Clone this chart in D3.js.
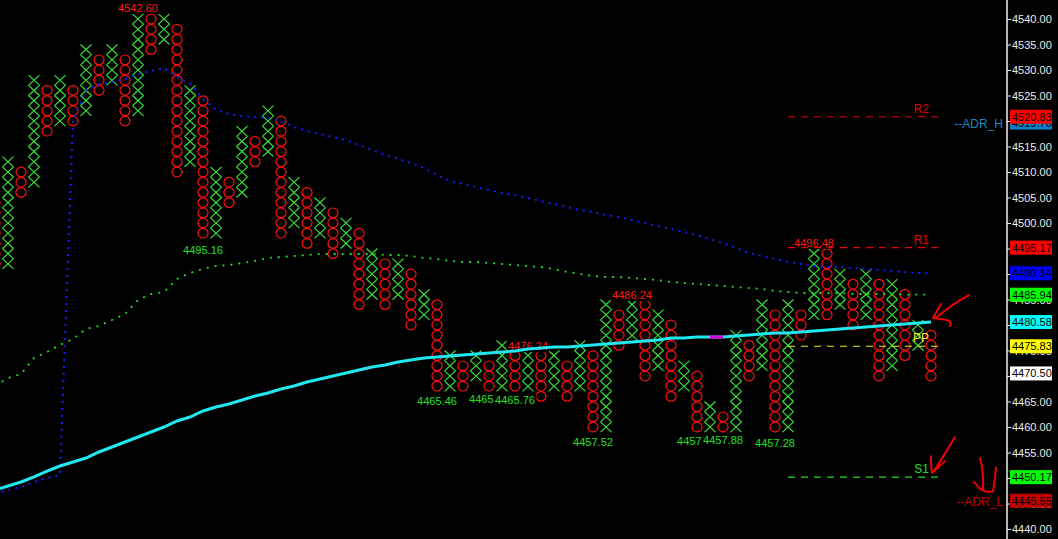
<!DOCTYPE html>
<html><head><meta charset="utf-8">
<script src="https://cdn.jsdelivr.net/npm/d3@7"></script>
<style>html,body{margin:0;padding:0;background:#000;overflow:hidden}</style>
</head><body><svg id="c" width="1058" height="539"></svg>
<script>
// ---- P&F columns (box size 2) ----
const colTypes = ["O","X","O","X","O","X","O","X","O","X","O","X","O","X","O","X","O","X","O","X",
  "O","X","O","X","O","X","O","X","O","X","O","X","O","X","O","X","O","X","O","X",
  "O","X","O","X","O","X","O","X","O","X","O","X","O","X","O","X","O","X","O","X",
  "O","X","O","X","O","X","O","X","O","X","O","X","O"];
const colLow = [4492,4492,4506,4508,4518,4520,4520,4522,4526,4528,
  4520,4522,4534,4536,4510,4512,4498,4498,4504,4506,
  4512,4514,4498,4500,4496,4498,4494,4496,4484,4486,
  4484,4486,4480,4482,4468,4468,4468,4470,4468,4468,
  4468,4468,4466,4468,4466,4468,4460,4460,4476,4478,
  4470,4472,4466,4468,4460,4460,4460,4460,4470,4472,
  4460,4460,4478,4482,4482,4484,4480,4482,4470,4472,
  4474,4476,4470];
const colHigh = [4504,4512,4510,4528,4526,4528,4526,4534,4532,4534,
  4532,4540,4540,4540,4538,4526,4524,4510,4508,4518,
  4516,4522,4520,4508,4506,4504,4502,4500,4498,4494,
  4492,4492,4490,4486,4484,4474,4472,4474,4472,4476,
  4474,4474,4474,4474,4472,4476,4474,4484,4482,4484,
  4484,4482,4480,4472,4470,4464,4462,4478,4476,4484,
  4482,4484,4482,4494,4494,4490,4488,4490,4488,4488,
  4486,4480,4478];
const boxSize = 2;

// ---- indicator lines (one value per column) ----
const cyanLine = [4447.65,4448.43,4449.22,4450.20,4451.37,4452.35,4453.14,4453.92,4455.10,4456.08,
  4457.06,4458.04,4459.02,4460.00,4461.18,4461.96,4463.14,4463.92,4464.51,4465.29,
  4466.08,4466.67,4467.45,4468.04,4468.82,4469.41,4470.00,4470.59,4471.18,4471.76,
  4472.16,4472.75,4473.14,4473.53,4473.73,4473.92,4474.12,4474.31,4474.51,4474.71,
  4474.90,4475.29,4475.49,4475.69,4475.69,4475.88,4476.08,4476.27,4476.47,4476.67,
  4476.86,4477.06,4477.45,4477.45,4477.65,4477.65,4477.65,4477.84,4478.04,4478.24,
  4478.43,4478.43,4478.63,4478.82,4479.02,4479.22,4479.41,4479.61,4479.80,4480.00,
  4480.20,4480.39,4480.58];
const magentaSpan = [55, 56];
const blueLine = [4446.86,4447.65,4448.24,4449.22,4450.00,4450.59,4520.20,4526.08,4527.25,4527.65,
  4528.24,4529.22,4529.80,4530.39,4528.63,4527.45,4524.31,4522.16,4521.37,4520.98,
  4520.78,4520.59,4520.00,4518.82,4518.04,4517.45,4516.86,4516.27,4515.29,4514.31,
  4513.33,4512.55,4511.76,4510.78,4509.41,4508.24,4507.65,4507.06,4506.47,4505.88,
  4505.49,4504.90,4504.31,4503.73,4503.14,4502.55,4502.16,4501.57,4501.18,4500.59,
  4500.00,4499.41,4498.82,4498.24,4497.65,4496.86,4496.08,4495.10,4494.12,4493.53,
  4492.94,4492.35,4491.96,4491.57,4491.37,4491.37,4491.18,4490.98,4490.78,4490.59,
  4490.39,4490.20,4490.14];
const greenLine = [4468.04,4469.61,4470.39,4473.53,4474.71,4476.08,4477.25,4479.22,4479.80,4480.98,
  4482.16,4484.90,4486.08,4486.47,4489.02,4490.20,4490.98,4491.57,4491.76,4492.16,
  4492.55,4493.14,4493.33,4493.53,4493.73,4493.92,4493.92,4493.92,4493.92,4493.92,
  4493.73,4493.73,4493.53,4493.14,4492.94,4492.55,4492.35,4492.35,4492.16,4491.96,
  4491.76,4491.57,4491.37,4490.98,4490.39,4490.00,4489.61,4489.41,4489.41,4489.22,
  4489.02,4488.82,4488.43,4488.24,4488.04,4487.84,4487.65,4487.45,4487.25,4487.06,
  4486.67,4486.47,4486.27,4486.27,4486.27,4486.27,4486.08,4486.08,4486.08,4486.08,
  4485.94,4485.94,4485.94];

// ---- extreme labels ----
const highLabelCols = [11, 41, 49, 63];
const highLabelPrices = [4542.60, 4476.24, 4486.24, 4496.48];
const lowLabelCols = [16, 34, 38, 40, 46, 54, 56, 60];
const lowLabelPrices = [4495.16, 4465.46, 4465.90, 4465.76, 4457.52, 4457.60, 4457.88, 4457.28];

// ---- pivot levels ----
const pivotNames = ["R2", "R1", "PP", "S1"];
const pivotValues = [4520.83, 4495.17, 4475.83, 4450.17];
const pivotColors = ["#e00000", "#ee0000", "#f0f020", "#22e022"];
const pivotStartCol = 61;

// ---- axis ----
const yTicks = d3.range(4440, 4540.1, 5);
const tagValues = [4519.70, 4520.83, 4495.17, 4490.14, 4485.94, 4480.58, 4475.83, 4470.50, 4450.17, 4445.55];
const tagColors = ["#0a80c8", "#ff0000", "#ff0000", "#0000ff", "#00ff00", "#00ffff", "#ffff00", "#ffffff", "#00ff00", "#c00000"];
const adrNames = ["--ADR_H", "--ADR_L"];
const adrValues = [4519.70, 4445.55];
const adrColors = ["#1a86c8", "#c00000"];

const W = 1058, H = 539;
const FONT = "'Liberation Sans', Arial, sans-serif";
const svg = d3.select("#c");
svg.append("rect").attr("width", W).attr("height", H).attr("fill", "#000");

const x = d3.scaleLinear().domain([1, 72]).range([8, 931]);
const y = d3.scaleLinear().domain([4440, 4540]).range([529, 19]);
const boxH = y(0) - y(boxSize);

const XCOL = "#3ce63c", OCOL = "#ff1010";

// columns
const gCols = svg.append("g");
colTypes.forEach((t, i) => {
  const boxes = d3.range(colLow[i], colHigh[i] + 0.001, boxSize);
  const g = gCols.append("g");
  boxes.forEach(p => {
    const cx = x(i), cy = y(p);
    if (t === "X") {
      const hw = 5.5, hh = boxH / 2;
      g.append("path")
        .attr("d", `M${cx - hw},${cy - hh}L${cx + hw},${cy + hh}M${cx + hw},${cy - hh}L${cx - hw},${cy + hh}`)
        .attr("stroke", XCOL).attr("stroke-width", 1.15).attr("fill", "none");
    } else {
      g.append("ellipse").attr("cx", cx).attr("cy", cy).attr("rx", 5).attr("ry", boxH / 2 - 0.3)
        .attr("stroke", OCOL).attr("stroke-width", 1.2).attr("fill", "none");
    }
  });
});

// extreme labels (drawn left to right with black backgrounds)
const labs = [];
highLabelCols.forEach((c, k) => labs.push({ c, p: highLabelPrices[k], col: "#ff1a1a" }));
lowLabelCols.forEach((c, k) => labs.push({ c, p: lowLabelPrices[k], col: "#22e022" }));
labs.sort((a, b) => a.c - b.c);
const gLab = svg.append("g");
labs.forEach(l => {
  const cy = y(l.p) + 2;
  const t = gLab.append("text").attr("x", x(l.c)).attr("y", cy)
    .attr("text-anchor", "middle").attr("dominant-baseline", "central")
    .attr("font-family", FONT).attr("font-size", 11).attr("fill", l.col)
    .text(d3.format(".2f")(l.p));
  const bb = t.node().getBBox();
  gLab.insert("rect", () => t.node()).attr("x", bb.x - 1.5).attr("y", cy - 6).attr("width", bb.width + 3).attr("height", 12).attr("fill", "#000");
});

// indicator lines
const idx = d3.range(colTypes.length);
const lineGen = arr => d3.line().x(i => x(i)).y(i => y(arr[i]))(idx);
svg.append("path").attr("d", lineGen(greenLine)).attr("fill", "none")
  .attr("stroke", "#22dd22").attr("stroke-width", 1.8).attr("stroke-dasharray", "2,6");
svg.append("path").attr("d", lineGen(blueLine)).attr("fill", "none")
  .attr("stroke", "#1020ff").attr("stroke-width", 2).attr("stroke-dasharray", "2,5");
svg.append("path").attr("d", lineGen(cyanLine)).attr("fill", "none")
  .attr("stroke", "#20e8f0").attr("stroke-width", 3);
svg.append("path").attr("d", d3.line().x(i => x(i)).y(i => y(cyanLine[i]))(magentaSpan))
  .attr("fill", "none").attr("stroke", "#e000e0").attr("stroke-width", 3);

// pivot lines
const px0 = x(pivotStartCol), px1 = x(72) + 7;
pivotNames.forEach((n, k) => {
  const py = y(pivotValues[k]);
  svg.append("line").attr("x1", px0).attr("x2", px1).attr("y1", py).attr("y2", py)
    .attr("stroke", pivotColors[k]).attr("stroke-width", 1.2).attr("stroke-dasharray", "7,6");
  svg.append("text").attr("x", px1 - 9).attr("y", py - 4)
    .attr("text-anchor", "end").attr("font-family", FONT).attr("font-size", 12)
    .attr("fill", pivotColors[k]).text(n);
});

// right axis
const axX = 1007;
svg.append("line").attr("x1", axX).attr("x2", axX).attr("y1", 0).attr("y2", H).attr("stroke", "#f0f0f0").attr("stroke-width", 1.5);
const axis = d3.axisRight(y).tickValues(yTicks).tickFormat(d3.format(".2f")).tickSize(4).tickPadding(1).tickSizeOuter(0);
const gAx = svg.append("g").attr("transform", `translate(${axX},0)`).call(axis);
gAx.select(".domain").remove();
gAx.selectAll("line").attr("stroke", "#f0f0f0");
gAx.selectAll("text").attr("fill", "#ececec").attr("font-family", FONT).attr("font-size", 11);

// price tags
tagValues.forEach((v, k) => {
  const cy = y(v);
  svg.append("rect").attr("x", 1010).attr("y", cy - 7).attr("width", 42).attr("height", 14).attr("fill", tagColors[k]);
  svg.append("text").attr("x", 1012).attr("y", cy).attr("dominant-baseline", "central")
    .attr("font-family", FONT).attr("font-size", 11).attr("fill", "#000").text(d3.format(".2f")(v));
});

// ADR names
adrNames.forEach((n, k) => {
  svg.append("text").attr("x", 1003).attr("y", y(adrValues[k]) + 1).attr("dominant-baseline", "central")
    .attr("text-anchor", "end").attr("font-family", FONT).attr("font-size", 12)
    .attr("fill", adrColors[k]).text(n);
});

// hand-drawn arrows (annotations)
const arrowStyle = s => s.attr("fill", "none").attr("stroke", "#f00000").attr("stroke-width", 2)
  .attr("stroke-linecap", "round").attr("stroke-linejoin", "round");
const a1 = svg.append("g").attr("transform", `translate(${x(72) + 2},${y(cyanLine[72]) - 4})`);
arrowStyle(a1.append("path").attr("d", "M36,-23 Q19,-14 4,-1 M8,-14 L0,0 L14,2 Q19,4 17,8"));
const a2 = svg.append("g").attr("transform", `translate(${x(72) + 1},${y(pivotValues[3]) - 4})`);
arrowStyle(a2.append("path").attr("d", "M23,-36 Q14,-21 2,-2 M-1,-17 Q-1,-7 0,0 L13,-12"));
const a3 = svg.append("g").attr("transform", `translate(984,${y(adrValues[1]) - 8})`);
arrowStyle(a3.append("path").attr("d", "M-4,-35 Q0,-20 -1,-3 M-10,-11 Q-4,-2 3,-1 L9,-1 Q11,-13 12,-25"));
</script>
</body></html>
